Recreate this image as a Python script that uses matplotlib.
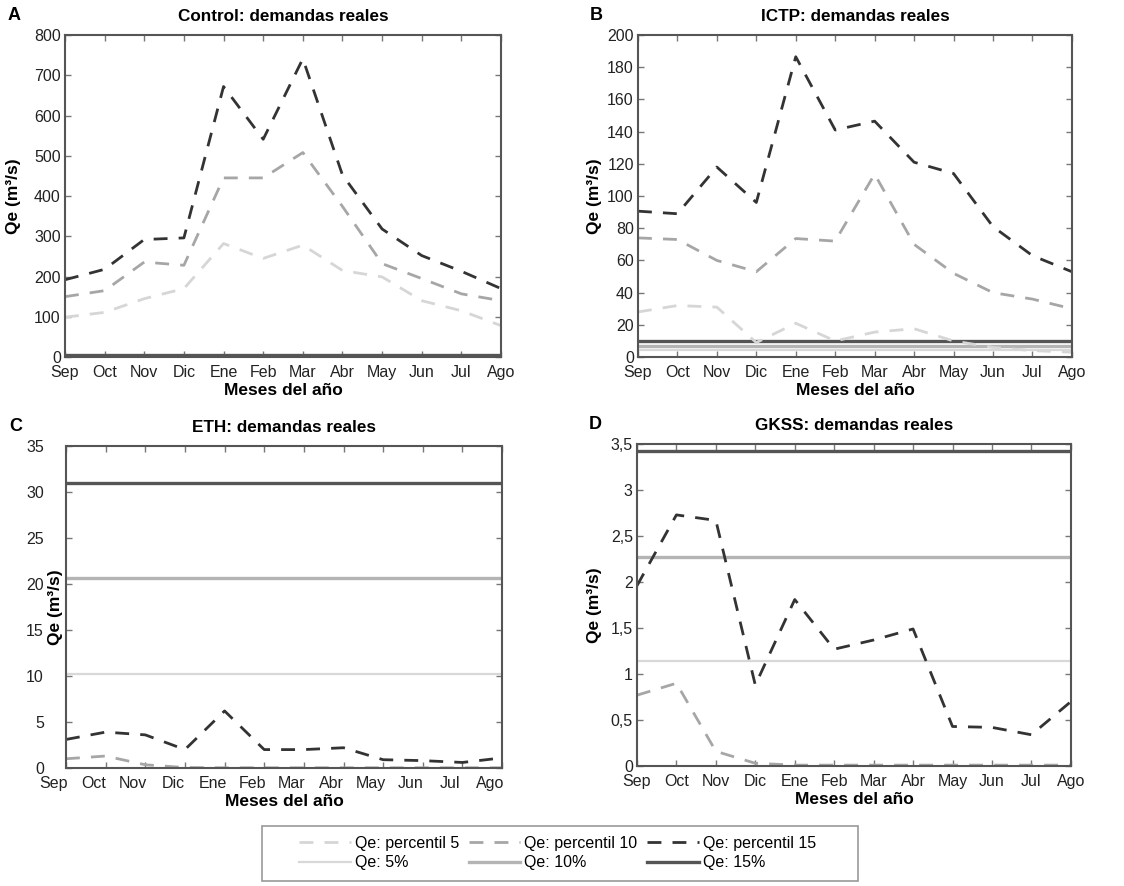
import matplotlib
matplotlib.use("Agg")
import matplotlib.pyplot as plt
import matplotlib.transforms as mtransforms
from matplotlib.patches import Rectangle
import numpy as np

plt.rcParams['font.family'] = ['Liberation Sans', 'DejaVu Sans']

meses = ["Sep", "Oct", "Nov", "Dic", "Ene", "Feb", "Mar", "Abr", "May", "Jun", "Jul", "Ago"]

# Control
control_p5 = [99, 111, 145, 170, 282, 245, 278, 215, 199, 140, 115, 78]
control_p10 = [150, 165, 236, 228, 445, 445, 508, 374, 232, 195, 157, 140]
control_p15 = [192, 218, 292, 296, 672, 541, 741, 452, 318, 252, 213, 170]
control_niveles = [2, 3.5, 5.5]  # 5%, 10%, 15%

# ICTP
ictp_p5 = [28, 32, 31, 9, 21, 10, 15.5, 17.6, 10, 6, 4, 3]
ictp_p10 = [74, 73, 60, 53, 73.6, 72, 113.6, 70, 52, 40, 36, 30]
ictp_p15 = [90.6, 89, 118, 96, 186.5, 141, 146.5, 121, 114, 81, 63, 53]
ictp_niveles = [4.5, 7, 9.7]

# ETH
eth_p5 = [0.05, 0.05, 0.05, 0.05, 0.05, 0.05, 0.05, 0.05, 0.05, 0.05, 0.05, 0.05]
eth_p10 = [1.0, 1.3, 0.35, 0.05, 0.02, 0.02, 0.02, 0.02, 0.02, 0.02, 0.02, 0.02]
eth_p15 = [3.1, 3.9, 3.6, 2.0, 6.2, 2.0, 2.0, 2.2, 0.9, 0.8, 0.6, 1.1]
eth_niveles = [10.2, 20.6, 31.0]

# GKSS
gkss_p5 = [0.005, 0.005, 0.005, 0.005, 0.005, 0.005, 0.005, 0.005, 0.005, 0.005, 0.005, 0.005]
gkss_p10 = [0.77, 0.90, 0.16, 0.03, 0.01, 0.01, 0.01, 0.01, 0.01, 0.01, 0.01, 0.01]
gkss_p15 = [1.96, 2.73, 2.67, 0.88, 1.81, 1.27, 1.37, 1.49, 0.43, 0.42, 0.34, 0.70]
gkss_niveles = [1.14, 2.27, 3.42]

yticks_a = [0, 100, 200, 300, 400, 500, 600, 700, 800]
yticks_b = [0, 20, 40, 60, 80, 100, 120, 140, 160, 180, 200]
yticks_c = [0, 5, 10, 15, 20, 25, 30, 35]
yticks_d = [0, 0.5, 1, 1.5, 2, 2.5, 3, 3.5]
ylabels_d = ["0", "0,5", "1", "1,5", "2", "2,5", "3", "3,5"]

paneles = [
    ("A", "Control: demandas reales", control_p5, control_p10, control_p15, control_niveles,
     yticks_a, None, [0.0578, 0.597, 0.388, 0.3635], -0.100, 3, 0),
    ("B", "ICTP: demandas reales", ictp_p5, ictp_p10, ictp_p15, ictp_niveles,
     yticks_b, None, [0.5676, 0.597, 0.386, 0.3635], -0.083, 3, 0),
    ("C", "ETH: demandas reales", eth_p5, eth_p10, eth_p15, eth_niveles,
     yticks_c, None, [0.0587, 0.1332, 0.388, 0.3634], -0.007, 16, -12),
    ("D", "GKSS: demandas reales", gkss_p5, gkss_p10, gkss_p15, gkss_niveles,
     yticks_d, ylabels_d, [0.5667, 0.1354, 0.386, 0.3634], -0.081, 3, 0),
]

col_p5 = "#d6d6d6"
col_p10 = "#a6a6a6"
col_p15 = "#333333"
col_n5 = "#d8d8d8"
col_n10 = "#b4b4b4"
col_n15 = "#555555"

fig = plt.figure(figsize=(11.24, 8.86), dpi=100)
x = np.arange(len(meses))

for letra, titulo, p5, p10, p15, niveles, yt, ytl, pos, ylx, ypad, xshift in paneles:
    ax = fig.add_axes(pos)
    for v, c, lw in zip(niveles, [col_n5, col_n10, col_n15], [1.6, 2.4, 2.4]):
        ax.plot(x, np.full(len(meses), v), color=c, lw=lw, solid_capstyle="butt")
    ax.plot(x, p5, color=col_p5, lw=2.0, dashes=(5, 4))
    ax.plot(x, p10, color=col_p10, lw=2.0, dashes=(5, 4))
    ax.plot(x, p15, color=col_p15, lw=2.0, dashes=(5, 4))

    ax.set_xlim(0, 11)
    ax.set_ylim(yt[0], yt[-1])
    ax.set_xticks(x)
    ax.set_xticklabels(meses)
    ax.set_yticks(yt)
    if ytl is not None:
        ax.set_yticklabels(ytl)
    ax.tick_params(direction="in", top=True, right=True, length=4, width=1,
                   color="#777777", labelsize=11.5, labelcolor="#222222")
    ax.tick_params(axis="y", pad=ypad)
    ax.tick_params(axis="x", pad=6)
    if xshift:
        off = mtransforms.ScaledTranslation(xshift / 100, 0, fig.dpi_scale_trans)
        for lab in ax.get_xticklabels():
            lab.set_transform(lab.get_transform() + off)
    for s in ax.spines.values():
        s.set_color("#555555")
        s.set_linewidth(1.5)

    ax.set_title(titulo, fontsize=12.3, fontweight="bold", pad=10)
    ax.set_xlabel("Meses del año", fontsize=12.5, fontweight="bold")
    ax.xaxis.set_label_coords(0.5, -0.08)
    ax.set_ylabel("Qe (m³/s)", fontsize=12.5, fontweight="bold")
    ax.yaxis.set_label_coords(ylx, 0.5)

    # letra del panel
    fig.text(pos[0] - 0.045 if letra in "AC" else pos[0] - 0.037,
             pos[1] + pos[3] + 0.022, letra, fontsize=13, fontweight="bold",
             ha="center", va="center")

# leyenda común
h = [
    plt.Line2D([], [], color=col_p5, lw=2.0, dashes=(5, 4)),
    plt.Line2D([], [], color=col_n5, lw=1.6),
    plt.Line2D([], [], color=col_p10, lw=2.0, dashes=(5, 4)),
    plt.Line2D([], [], color=col_n10, lw=2.4),
    plt.Line2D([], [], color=col_p15, lw=2.0, dashes=(5, 4)),
    plt.Line2D([], [], color=col_n15, lw=2.4),
]
l = ["Qe: percentil 5", "Qe: 5%", "Qe: percentil 10", "Qe: 10%",
     "Qe: percentil 15", "Qe: 15%"]
fig.legend(h, l, loc="center", bbox_to_anchor=(0.496, 1 - 853 / 886), ncol=3,
           fontsize=11.5, frameon=False, handlelength=3.25,
           handletextpad=0.25, columnspacing=0.6, labelspacing=0.3,
           borderpad=0.2)
fig.patches.append(Rectangle((262 / 1124, 1 - 881 / 886), 596 / 1124, 55 / 886,
                             transform=fig.transFigure, fill=False,
                             edgecolor="#999999", lw=1.2))

fig.savefig("out.png", dpi=100)
